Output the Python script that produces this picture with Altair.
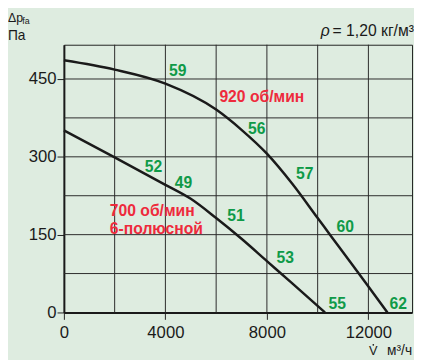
import altair as alt
import pandas as pd

# ---- data ----
flow_920 = [0, 2000, 4000, 6000, 7000, 8000, 9000, 10000, 10500, 11000, 12000, 12750]
dp_920 = [486, 468, 441, 391, 352, 306, 248, 182, 149, 116, 50, 0]

flow_700 = [0, 2000, 4000, 5000, 6000, 7000, 8000, 9000, 10290]
dp_700 = [351, 299, 246, 219, 182, 142, 99, 56, 0]

noise_labels = ["59", "56", "57", "60", "62", "52", "49", "51", "53", "55"]
noise_x = [4490, 7600, 9495, 11083, 13173, 3534, 4711, 6786, 8721, 10773]
noise_y = [465, 353, 267, 165, 17, 280, 249, 185, 104, 17]

speed_labels = ["920 об/мин", "700 об/мин", "6-полюсной"]
speed_x = [6128, 1808, 1808]
speed_y = [415, 196, 160]

x_grid = [2000, 4000, 6000, 8000, 10000, 12000]
y_grid = [75, 150, 225, 300, 375, 450]
x_ticks = [0, 4000, 8000, 12000]
y_ticks = [0, 150, 300, 450]

X_MAX = 13720
Y_MAX = 516

curves = pd.DataFrame(
    {"flow": flow_920 + flow_700,
     "dp": dp_920 + dp_700,
     "curve": ["920"] * len(flow_920) + ["700"] * len(flow_700)}
)
noise = pd.DataFrame({"label": noise_labels, "flow": noise_x, "dp": noise_y})
speed = pd.DataFrame({"label": speed_labels, "flow": speed_x, "dp": speed_y})
xg = pd.DataFrame({"flow": x_grid})
yg = pd.DataFrame({"dp": y_grid})

xs = alt.Scale(domain=[0, X_MAX], nice=False, zero=False)
ys = alt.Scale(domain=[0, Y_MAX], nice=False, zero=False)

FONT = "Liberation Sans"

x_axis = alt.Axis(values=x_ticks, format="d", grid=False, title=None, labelFontSize=17,
                  labelFont=FONT, labelColor="#1a1a1a", tickSize=7, tickColor="#222",
                  tickWidth=1, domainColor="#1a1a1a", domainWidth=2, labelPadding=6,
                  labelFlush=False, labelOverlap=False)
y_axis = alt.Axis(values=y_ticks, format="d", grid=False, title=None, labelFontSize=17,
                  labelFont=FONT, labelColor="#1a1a1a", tickSize=7, tickColor="#222",
                  tickWidth=1, domainColor="#1a1a1a", domainWidth=2, labelPadding=1,
                  labelFlush=False, labelOverlap=False)

vgrid = alt.Chart(xg).mark_rule(color="#2a2a2a", strokeWidth=1).encode(
    x=alt.X("flow:Q", scale=xs, axis=x_axis)
)
hgrid = alt.Chart(yg).mark_rule(color="#2a2a2a", strokeWidth=1).encode(
    y=alt.Y("dp:Q", scale=ys, axis=y_axis)
)

lines = alt.Chart(curves).mark_line(color="#1a1a1a", strokeWidth=2.5, interpolate="monotone").encode(
    x=alt.X("flow:Q", scale=xs),
    y=alt.Y("dp:Q", scale=ys),
    detail="curve:N",
)

noise_text = alt.Chart(noise).mark_text(
    font=FONT, fontSize=16, fontWeight="bold", color="#0f9a48", align="center", baseline="middle"
).encode(x=alt.X("flow:Q", scale=xs), y=alt.Y("dp:Q", scale=ys), text="label:N")

speed_text = alt.Chart(speed).mark_text(
    font=FONT, fontSize=16, fontWeight="bold", color="#ee2a3c", align="left", baseline="middle"
).encode(x=alt.X("flow:Q", scale=xs), y=alt.Y("dp:Q", scale=ys), text="label:N")


def label(text, x, y, size, align="left", style="normal"):
    return alt.Chart(pd.DataFrame({"t": [text]})).mark_text(
        font=FONT, fontSize=size, color="#1a1a1a", align=align, baseline="alphabetic", fontStyle=style
    ).encode(x=alt.value(x), y=alt.value(y), text="t:N")


# dot over the V (volume-flow symbol)
vdot = alt.Chart(pd.DataFrame({"t": [0]})).mark_circle(color="#1a1a1a", opacity=1, size=3).encode(
    x=alt.value(315.5), y=alt.value(306)
)

annots = [
    label("Δp", -57, -23, 12.5),
    label("fa", -42.5, -21, 9),
    label("Па", -57, -5, 14),
    label("ρ", 262, -8.5, 16, style="italic"),
    label("= 1,20 кг/м³", 274, -8.5, 16),
    label("V", 311, 316, 13),
    label("м³/ч", 355, 316, 14, align="right"),
]

chart = alt.layer(vgrid, hgrid, lines, noise_text, speed_text, vdot, *annots).properties(
    width=355,
    height=273,
    padding={"left": 57, "top": 34, "right": 2, "bottom": 45},
    autosize=alt.AutoSizeParams(type="none"),
    background="#deece0",
).configure_view(stroke="#222", strokeWidth=1)

chart.save("out.html", embed_options={"renderer": "svg", "actions": False})
